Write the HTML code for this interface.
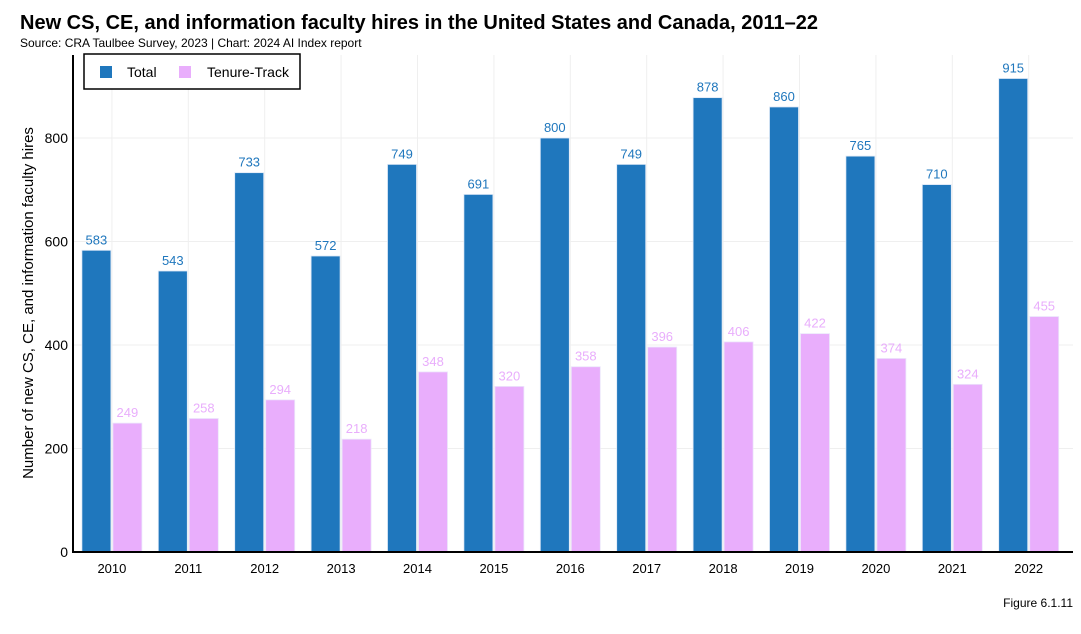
<!DOCTYPE html>
<html><head><meta charset="utf-8"><style>
body{margin:0;background:#fff;font-family:"Liberation Sans",sans-serif;}
svg text{font-family:"Liberation Sans",sans-serif;}
</style></head><body>
<svg width="1081" height="629" viewBox="0 0 1081 629">
<text x="20" y="29" font-size="20" font-weight="bold" fill="#000">New CS, CE, and information faculty hires in the United States and Canada, 2011–22</text>
<text x="20" y="47" font-size="12" fill="#000">Source: CRA Taulbee Survey, 2023 | Chart: 2024 AI Index report</text>
<g id="grid"></g>
<g id="bars"></g>
<g id="axes"></g>
<text transform="translate(33,303) rotate(-90)" text-anchor="middle" font-size="15" fill="#000">Number of new CS, CE, and information faculty hires</text>
<g>
<rect x="84" y="54" width="216" height="35" fill="#fff" stroke="#000" stroke-width="1.5"/>
<rect x="100" y="66" width="12" height="12" fill="#1f77bd"/>
<text x="127" y="77" font-size="14" fill="#000">Total</text>
<rect x="179" y="66" width="12" height="12" fill="#e9aefc"/>
<text x="207" y="77" font-size="14" fill="#000">Tenure-Track</text>
</g>
<text x="1073" y="607" text-anchor="end" font-size="12" fill="#000">Figure 6.1.11</text>
</svg>
<script>
const years=["2010","2011","2012","2013","2014","2015","2016","2017","2018","2019","2020","2021","2022"];
const totalHires=[583,543,733,572,749,691,800,749,878,860,765,710,915];
const tenureHires=[249,258,294,218,348,320,358,396,406,422,374,324,455];
const yTicks=[0,200,400,600,800];
const NS="http://www.w3.org/2000/svg";
const x0=73.7,band=76.4,bw=29;
function y(v){return 552-v*0.5175;}
function xc(i){return x0+band*(i+0.5);}
function mk(tag,attrs,parent){const e=document.createElementNS(NS,tag);for(const k in attrs)e.setAttribute(k,attrs[k]);parent.appendChild(e);return e;}
const grid=document.getElementById('grid'),bars=document.getElementById('bars'),axes=document.getElementById('axes');
yTicks.forEach(t=>{
 const l=mk('line',{x1:73,x2:1073,y1:y(t),y2:y(t),stroke:'#efefef'},grid);
 
 
 const tx=mk('text',{x:68,y:y(t)+5,'text-anchor':'end','font-size':14,fill:'#000'},axes);
 tx.textContent=t;
 
 
});
years.forEach((yr,i)=>{
 const c=xc(i);
 const g=mk('line',{x1:c,x2:c,y1:55,y2:552,stroke:'#efefef'},grid);
 
 
 const b1=mk('rect',{x:c-bw-1,y:y(totalHires[i]),width:bw,height:552-y(totalHires[i]),fill:'#1f77bd',stroke:'#dfe9f7','stroke-width':0.8},bars);
 
 
 const b2=mk('rect',{x:c+1,y:y(tenureHires[i]),width:bw,height:552-y(tenureHires[i]),fill:'#e9aefc',stroke:'#ece6fb','stroke-width':0.8},bars);
 
 
 const t1=mk('text',{x:c-bw/2-1,y:y(totalHires[i])-6,'text-anchor':'middle','font-size':13,fill:'#1f77bd'},bars);
 t1.textContent=totalHires[i];
 
 
 const t2=mk('text',{x:c+bw/2+1,y:y(tenureHires[i])-6,'text-anchor':'middle','font-size':13,fill:'#e9aefc'},bars);
 t2.textContent=tenureHires[i];
 
 
 const xl=mk('text',{x:c,y:573,'text-anchor':'middle','font-size':13,fill:'#000'},axes);
 xl.textContent=yr;
 
 
});
const ya=mk('line',{x1:73,x2:73,y1:55,y2:553,stroke:'#000','stroke-width':2},axes);


const xa=mk('line',{x1:72,x2:1073,y1:552,y2:552,stroke:'#000','stroke-width':2},axes);


</script>
</body></html>
